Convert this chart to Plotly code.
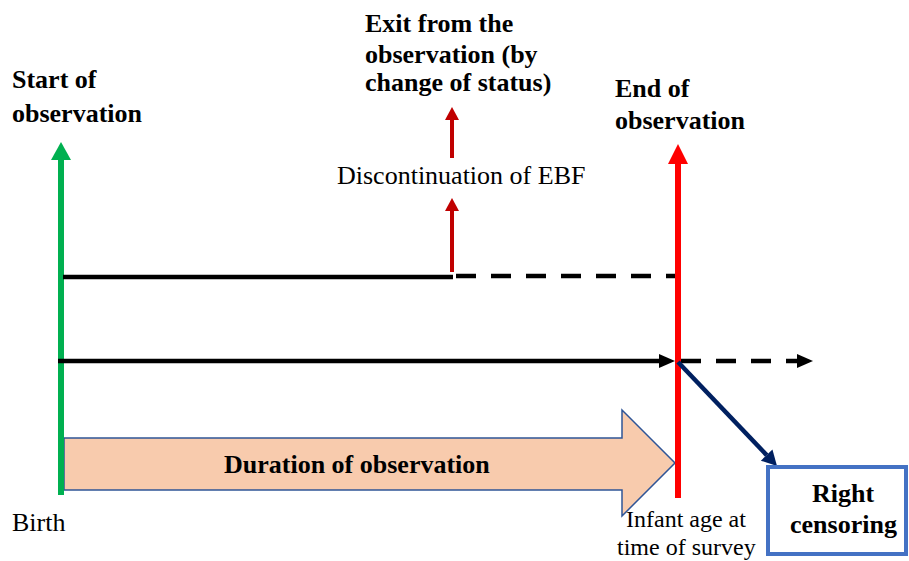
import math
import plotly.graph_objects as go

# ---- Diagram data (diagram units = pixels of a 909x561 canvas, y downwards) ----
W, H = 909, 561

# timeline x positions
X_BIRTH = 61          # start of observation (birth)
X_EXIT = 452          # discontinuation of EBF (exit by change of status)
X_SURVEY = 678        # end of observation (infant age at time of survey)
X_BEYOND = 813        # continuation beyond survey

# timeline y positions
Y_TOP_START = 142
Y_TOP_END = 144
Y_AXIS_BOTTOM = [495, 498]
Y_CASE1 = 277         # case exiting by change of status
Y_CASE2 = 361         # case right-censored
Y_EXIT_ARROWS = [(272, 198), (158, 107)]

# duration block arrow
DUR_BODY = [64, 438, 622, 490]     # x0, y0, x1, y1
DUR_HEAD = [410, 516, 675]         # head top, head bottom, tip x

# right censoring box and connector
CENS_BOX = [768, 467, 906, 554]
CENS_LINK = [(678, 362), (777, 466)]

# colours
GREEN = "#00B050"
RED = "#FF0000"
DARKRED = "#C00000"
NAVY = "#002060"
PEACH = "#F8CBAD"
OUTLINE = "#2F5597"
BOXBLUE = "#4472C4"

SERIF = "Liberation Serif, Times New Roman, serif"

# texts: (text, x, y, xanchor, size, bold)
LABELS = [
    ("Start of", 10, 79, "left", 26, True),
    ("observation", 10, 113, "left", 26, True),
    ("Exit from the", 363, 23, "left", 26, True),
    ("observation (by", 363, 54, "left", 26, True),
    ("change of status)", 363, 82, "left", 26, True),
    ("End of", 613, 88, "left", 26, True),
    ("observation", 613, 120, "left", 26, True),
    ("Discontinuation of EBF", 461, 175, "center", 26, False),
    ("Duration of observation", 357, 464, "center", 26, True),
    ("Birth", 10, 522, "left", 26, False),
    ("Infant age at", 686, 519, "center", 24, False),
    ("time of survey", 686, 547, "center", 24, False),
    ("Right", 843, 493, "center", 26, True),
    ("censoring", 843, 524, "center", 26, True),
]

shapes = []


def line(x0, y0, x1, y1, color, width, dash="solid"):
    shapes.append(dict(type="line", x0=x0, y0=y0, x1=x1, y1=y1, xref="x", yref="y",
                       line=dict(color=color, width=width, dash=dash)))


def tri(pts, color):
    d = "M" + " L".join(f"{x},{y}" for x, y in pts) + " Z"
    shapes.append(dict(type="path", path=d, xref="x", yref="y",
                       fillcolor=color, line=dict(color=color, width=0)))


def arrow(x0, y0, x1, y1, color, width, head_len, head_half, dash="solid"):
    dx, dy = x1 - x0, y1 - y0
    L = math.hypot(dx, dy)
    ux, uy = dx / L, dy / L
    bx, by = x1 - ux * head_len, y1 - uy * head_len
    line(x0, y0, bx, by, color, width, dash)
    px, py = -uy, ux
    tri([(bx + px * head_half, by + py * head_half),
         (bx - px * head_half, by - py * head_half),
         (x1, y1)], color)


# duration block arrow
x0, y0, x1, y1 = DUR_BODY
ht, hb, tip = DUR_HEAD
shapes.append(dict(type="path", xref="x", yref="y",
                   path=(f"M{x0},{y0} L{x1},{y0} L{x1},{ht} L{tip},{(ht + hb) / 2} "
                         f"L{x1},{hb} L{x1},{y1} L{x0},{y1} Z"),
                   fillcolor=PEACH, line=dict(color=OUTLINE, width=1.5)))

# start of observation (green)
arrow(X_BIRTH, Y_AXIS_BOTTOM[0], X_BIRTH, Y_TOP_START, GREEN, 6, 18, 10)

# case 1: solid until exit, dashed until survey
line(63, Y_CASE1, X_EXIT + 1, Y_CASE1, "black", 4.5)
line(X_EXIT + 4, Y_CASE1 - 1, X_SURVEY - 2, Y_CASE1 - 1, "black", 4.5, "20px,15px")

# exit arrows (dark red)
for yb, yt in Y_EXIT_ARROWS:
    arrow(X_EXIT, yb, X_EXIT, yt, DARKRED, 4, 13, 7)

# end of observation (red)
arrow(X_SURVEY, Y_AXIS_BOTTOM[1], X_SURVEY, Y_TOP_END, RED, 6, 20, 10)

# case 2: solid to survey, dashed beyond
arrow(58, Y_CASE2, X_SURVEY - 3, Y_CASE2, "black", 4.5, 16, 7)
arrow(X_SURVEY + 3, Y_CASE2, X_BEYOND, Y_CASE2, "black", 4.5, 16, 7, "20px,15px")

# link to right censoring
(lx0, ly0), (lx1, ly1) = CENS_LINK
arrow(lx0, ly0, lx1, ly1, NAVY, 4.5, 15, 8)

# censoring box
bx0, by0, bx1, by1 = CENS_BOX
shapes.append(dict(type="rect", x0=bx0, y0=by0, x1=bx1, y1=by1, xref="x", yref="y",
                   line=dict(color=BOXBLUE, width=4), fillcolor="rgba(0,0,0,0)"))

annotations = []
for text, x, y, xa, size, bold in LABELS:
    annotations.append(dict(text=f"<b>{text}</b>" if bold else text, x=x, y=y,
                            xref="x", yref="y", xanchor=xa, yanchor="middle",
                            showarrow=False,
                            font=dict(family=SERIF, size=size, color="black")))

fig = go.Figure()
fig.add_trace(go.Scatter(x=[0, W], y=[0, H], mode="markers",
                         marker=dict(opacity=0), hoverinfo="skip", showlegend=False))
fig.update_layout(
    width=W, height=H, margin=dict(l=0, r=0, t=0, b=0),
    paper_bgcolor="white", plot_bgcolor="white",
    xaxis=dict(range=[0, W], visible=False, fixedrange=True),
    yaxis=dict(range=[H, 0], visible=False, fixedrange=True),
    shapes=shapes, annotations=annotations, showlegend=False,
)
fig.write_html(
    "out.html",
    config={"displayModeBar": False},
    post_script="document.body.style.margin='0';document.body.style.overflow='hidden';",
)
